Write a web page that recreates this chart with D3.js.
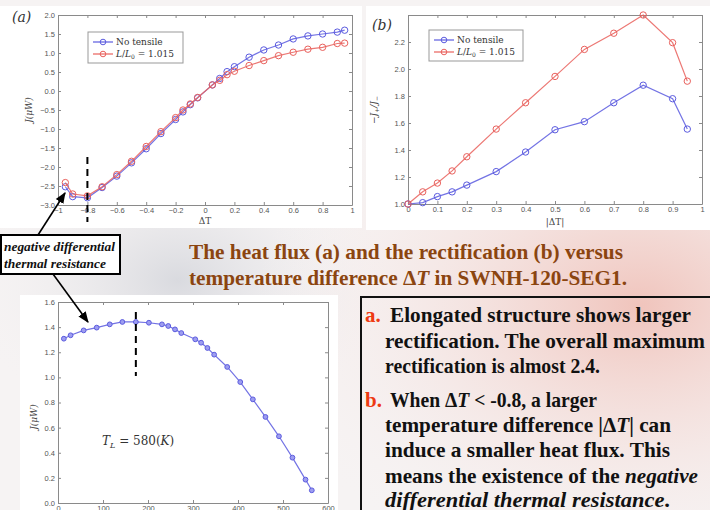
<!DOCTYPE html>
<html lang="en">
<head>
<meta charset="utf-8">
<title>Heat flux and rectification versus temperature difference</title>
<script src="https://d3js.org/d3.v7.min.js"></script>
<style>
  body { margin: 0; background: #fff; }
</style>
</head>
<body>
<script>

// ---- data ----

// (a) heat flux J versus deltaT
var fluxDT         = [-0.95, -0.9, -0.8, -0.7, -0.6, -0.5, -0.4, -0.3, -0.2, -0.15, -0.1, -0.05, 0.05, 0.1, 0.15, 0.2, 0.3, 0.4, 0.5, 0.6, 0.7, 0.8, 0.9, 0.95];
var fluxNoTensile  = [-2.52, -2.78, -2.81, -2.54, -2.24, -1.89, -1.52, -1.12, -0.75, -0.55, -0.36, -0.18, 0.16, 0.33, 0.51, 0.64, 0.89, 1.08, 1.21, 1.37, 1.45, 1.50, 1.55, 1.60];
var fluxTensile    = [-2.41, -2.71, -2.76, -2.52, -2.20, -1.85, -1.46, -1.07, -0.70, -0.50, -0.34, -0.17, 0.16, 0.28, 0.43, 0.52, 0.67, 0.80, 0.93, 1.02, 1.10, 1.15, 1.25, 1.26];

// (b) rectification -J+/J- versus |deltaT|
var rectDT         = [0, 0.05, 0.1, 0.15, 0.2, 0.3, 0.4, 0.5, 0.6, 0.7, 0.8, 0.9, 0.95];
var rectNoTensile  = [1.0, 1.01, 1.055, 1.09, 1.14, 1.24, 1.385, 1.55, 1.61, 1.75, 1.88, 1.78, 1.555];
var rectTensile    = [1.0, 1.09, 1.155, 1.245, 1.35, 1.555, 1.75, 1.945, 2.145, 2.265, 2.40, 2.195, 1.91];

// (c) heat flux at T_L = 580 K
var tempX          = [13, 28, 57, 86, 115, 143, 173, 202, 231, 245, 260, 274, 305, 318, 332, 347, 376, 405, 433, 461, 491, 521, 550, 564];
var tempFlux       = [1.308, 1.335, 1.374, 1.396, 1.422, 1.441, 1.441, 1.435, 1.422, 1.409, 1.382, 1.353, 1.303, 1.276, 1.234, 1.181, 1.083, 0.963, 0.825, 0.685, 0.531, 0.361, 0.186, 0.101];

var legendLabels   = ["No tensile", "L/L\u2080 = 1.015"];
var ticksA_x = [-1, -0.8, -0.6, -0.4, -0.2, 0, 0.2, 0.4, 0.6, 0.8, 1];
var ticksA_y = [-3, -2.5, -2, -1.5, -1, -0.5, 0, 0.5, 1, 1.5, 2];
var ticksB_x = [0, 0.1, 0.2, 0.3, 0.4, 0.5, 0.6, 0.7, 0.8, 0.9, 1];
var ticksB_y = [1.0, 1.2, 1.4, 1.6, 1.8, 2.0, 2.2];
var ticksC_x = [0, 100, 200, 300, 400, 500, 600];
var ticksC_y = [0, 0.2, 0.4, 0.6, 0.8, 1.0, 1.2, 1.4, 1.6];

var captionLines = ["The heat flux (a) and the rectification (b) versus",
                    "temperature difference \u0394T in SWNH-120-SEG1."];

var blue = "#5b5bdf", red = "#e9605c";
var SERIF = "Liberation Serif, Times New Roman, Times, serif";
var MATH = "DejaVu Serif, serif";
var SANS = "Liberation Sans, Arial, sans-serif";

// ---- page ----
var W = 710, H = 510;
var svg = d3.select("body").append("svg").attr("width", W).attr("height", H);

// slide background: pale with pinkish blotches
var defs = svg.append("defs");
var g1 = defs.append("radialGradient").attr("id", "pink").attr("cx", "0.9").attr("cy", "0.6").attr("r", "0.55");
g1.append("stop").attr("offset", "0").attr("stop-color", "#f0c4bc");
g1.append("stop").attr("offset", "1").attr("stop-color", "#f7f1f1").attr("stop-opacity", 0);
var g2 = defs.append("radialGradient").attr("id", "grey").attr("cx", "0.25").attr("cy", "0.55").attr("r", "0.3");
g2.append("stop").attr("offset", "0").attr("stop-color", "#d9dadf");
g2.append("stop").attr("offset", "1").attr("stop-color", "#f4f2f3").attr("stop-opacity", 0);
defs.append("marker").attr("id", "arrow").attr("viewBox", "0 0 10 10")
    .attr("refX", 9).attr("refY", 5).attr("markerWidth", 7).attr("markerHeight", 7)
    .attr("orient", "auto-start-reverse")
  .append("path").attr("d", "M0,1 L10,5 L0,9 z").attr("fill", "#000");

svg.append("rect").attr("width", W).attr("height", H).attr("fill", "#f6f3f3");
svg.append("rect").attr("width", W).attr("height", H).attr("fill", "url(#grey)");
svg.append("rect").attr("width", W).attr("height", H).attr("fill", "url(#pink)");

// white panels behind the plots
svg.append("rect").attr("x", 0).attr("y", 6).attr("width", 362).attr("height", 222).attr("fill", "#fff");
svg.append("rect").attr("x", 366).attr("y", 6).attr("width", 344).attr("height", 224).attr("fill", "#fff");
svg.append("rect").attr("x", 20).attr("y", 295).attr("width", 318).attr("height", 215).attr("fill", "#fff");

function drawPanel(cfg) {
  var x = d3.scaleLinear().domain(cfg.xDomain).range([cfg.left, cfg.right]);
  var y = d3.scaleLinear().domain(cfg.yDomain).range([cfg.bottom, cfg.top]);
  var g = svg.append("g");

  var fmtY = cfg.fmtY || d3.format(".1f");
  var fmtX = cfg.fmtX || function(d) { return d; };

  // matlab style box with inward ticks on all sides
  var axB = d3.axisBottom(x).tickValues(cfg.xTicks).tickSizeInner(-3).tickSizeOuter(0).tickPadding(3).tickFormat(fmtX);
  var axT = d3.axisTop(x).tickValues(cfg.xTicks).tickSizeInner(-3).tickSizeOuter(0).tickFormat("");
  var axL = d3.axisLeft(y).tickValues(cfg.yTicks).tickSizeInner(-3).tickSizeOuter(0).tickPadding(3).tickFormat(fmtY);
  var axR = d3.axisRight(y).tickValues(cfg.yTicks).tickSizeInner(-3).tickSizeOuter(0).tickFormat("");

  g.append("g").attr("transform", "translate(0," + cfg.bottom + ")").call(axB);
  g.append("g").attr("transform", "translate(0," + cfg.top + ")").call(axT);
  g.append("g").attr("transform", "translate(" + cfg.left + ",0)").call(axL);
  g.append("g").attr("transform", "translate(" + cfg.right + ",0)").call(axR);
  g.selectAll(".domain").attr("stroke", "#8a8a8a");
  g.selectAll(".tick line").attr("stroke", "#8a8a8a");
  g.selectAll(".tick text").attr("fill", "#555").attr("font-size", 7.5).attr("font-family", SANS)
    .text(function() { return this.textContent.replace("-", "\u2212"); });

  cfg.series.forEach(function(s) {
    var pts = s.xs.map(function(v, i) { return [v, s.ys[i]]; });
    var line = d3.line().x(function(d) { return x(d[0]); }).y(function(d) { return y(d[1]); });
    g.append("path").datum(pts).attr("d", line).attr("fill", "none")
      .attr("stroke", s.color).attr("stroke-width", 1.2).attr("stroke-opacity", 0.85);
    g.selectAll(null).data(pts).enter().append("circle")
      .attr("cx", function(d) { return x(d[0]); })
      .attr("cy", function(d) { return y(d[1]); })
      .attr("r", s.r || 3.2)
      .attr("fill", s.fill || "none").attr("stroke", s.color).attr("stroke-width", 1);
  });

  if (cfg.legend) {
    var L = cfg.legend;
    g.append("rect").attr("x", L.x).attr("y", L.y).attr("width", L.w).attr("height", L.h)
      .attr("fill", "#fff").attr("stroke", "#999").attr("stroke-width", 1);
    cfg.series.forEach(function(s, i) {
      var yy = L.y + 10 + i * 12;
      g.append("line").attr("x1", L.x + 5).attr("x2", L.x + 25).attr("y1", yy).attr("y2", yy)
        .attr("stroke", s.color).attr("stroke-width", 1.2);
      g.append("circle").attr("cx", L.x + 15).attr("cy", yy).attr("r", 2.8)
        .attr("fill", "none").attr("stroke", s.color);
      var t = g.append("text").attr("x", L.x + 28).attr("y", yy + 3)
        .attr("font-size", 9).attr("fill", "#333").attr("font-family", MATH);
      if (i === 0) {
        t.text(legendLabels[0]);
      } else {
        t.append("tspan").attr("font-style", "italic").text("L");
        t.append("tspan").text("/");
        t.append("tspan").attr("font-style", "italic").text("L");
        t.append("tspan").attr("font-size", 6).attr("dy", 2).text("0");
        t.append("tspan").attr("dy", -2).text(" = 1.015");
      }
    });
  }
  return { x: x, y: y, g: g };
}

// (a)
var pa = drawPanel({
  left: 58, right: 352, top: 15, bottom: 205,
  xDomain: [-1, 1], yDomain: [-3, 2],
  xTicks: ticksA_x, yTicks: ticksA_y,
  series: [{ xs: fluxDT, ys: fluxNoTensile, color: blue },
           { xs: fluxDT, ys: fluxTensile, color: red }],
  legend: { x: 88, y: 32, w: 95, h: 31 }
});
svg.append("text").attr("x", 12).attr("y", 22).attr("font-size", 14).attr("fill", "#333")
  .attr("font-family", MATH).attr("font-style", "italic").text("(a)");
svg.append("text").attr("x", 205).attr("y", 224).attr("text-anchor", "middle").attr("font-size", 9)
  .attr("fill", "#444").attr("font-family", MATH).text("\u0394T");
svg.append("text").attr("transform", "translate(32,110) rotate(-90)").attr("text-anchor", "middle")
  .attr("font-size", 9).attr("fill", "#444").attr("font-family", MATH)
  .attr("font-style", "italic").text("J(\u03bcW)");
svg.append("line").attr("x1", pa.x(-0.8)).attr("x2", pa.x(-0.8)).attr("y1", 157).attr("y2", 222)
  .attr("stroke", "#000").attr("stroke-width", 2).attr("stroke-dasharray", "7,5");

// (b)
var pb = drawPanel({
  left: 408, right: 702, top: 15, bottom: 204,
  xDomain: [0, 1], yDomain: [1, 2.4],
  xTicks: ticksB_x, yTicks: ticksB_y,
  series: [{ xs: rectDT, ys: rectNoTensile, color: blue },
           { xs: rectDT, ys: rectTensile, color: red }],
  legend: { x: 429, y: 30, w: 94, h: 31 }
});
svg.append("text").attr("x", 372).attr("y", 30).attr("font-size", 14).attr("fill", "#333")
  .attr("font-family", MATH).attr("font-style", "italic").text("(b)");
svg.append("text").attr("x", 555).attr("y", 225).attr("text-anchor", "middle").attr("font-size", 9)
  .attr("fill", "#444").attr("font-family", MATH).text("|\u0394T|");
var yl = svg.append("text").attr("transform", "translate(377,110) rotate(-90)").attr("text-anchor", "middle")
  .attr("font-size", 9).attr("fill", "#444").attr("font-family", MATH).attr("font-style", "italic");
yl.append("tspan").text("\u2212J");
yl.append("tspan").attr("font-size", 6).attr("dy", 2).text("+");
yl.append("tspan").attr("dy", -2).text("/J");
yl.append("tspan").attr("font-size", 6).attr("dy", 2).text("\u2212");

// (c)
var pc = drawPanel({
  left: 58, right: 328, top: 302, bottom: 503,
  xDomain: [0, 600], yDomain: [0, 1.6],
  xTicks: ticksC_x, yTicks: ticksC_y,
  series: [{ xs: tempX, ys: tempFlux, color: blue, r: 2.4, fill: "#9d9df0" }]
});
svg.append("text").attr("transform", "translate(37,417) rotate(-90)").attr("text-anchor", "middle")
  .attr("font-size", 9).attr("fill", "#444").attr("font-family", MATH)
  .attr("font-style", "italic").text("J(\u03bcW)");
var tl = svg.append("text").attr("x", 102).attr("y", 445).attr("font-size", 12).attr("fill", "#333")
  .attr("font-family", MATH);
tl.append("tspan").attr("font-style", "italic").text("T");
tl.append("tspan").attr("font-size", 8).attr("dy", 3).attr("font-style", "italic").text("L");
tl.append("tspan").attr("dy", -3).text(" = 580(");
tl.append("tspan").attr("font-style", "italic").text("K");
tl.append("tspan").text(")");
svg.append("line").attr("x1", pc.x(173)).attr("x2", pc.x(173)).attr("y1", 312).attr("y2", 376)
  .attr("stroke", "#000").attr("stroke-width", 2).attr("stroke-dasharray", "7,5");

// annotation box + arrows
svg.append("rect").attr("x", 1).attr("y", 235).attr("width", 119).attr("height", 39)
  .attr("fill", "#fff").attr("stroke", "#000").attr("stroke-width", 2);
["negative differential", "thermal resistance"].forEach(function(s, i) {
  svg.append("text").attr("x", 4).attr("y", 251 + i * 17).attr("font-size", 11.5)
    .attr("font-weight", "bold").attr("font-style", "italic")
    .attr("font-family", SERIF).attr("fill", "#111")
    .attr("textLength", i === 0 ? 111 : 102).attr("lengthAdjust", "spacingAndGlyphs").text(s);
});
svg.append("line").attr("x1", 38).attr("y1", 235).attr("x2", 65).attr("y2", 193)
  .attr("stroke", "#000").attr("stroke-width", 1.6).attr("marker-end", "url(#arrow)");
svg.append("line").attr("x1", 53).attr("y1", 274).attr("x2", 88).attr("y2", 322)
  .attr("stroke", "#000").attr("stroke-width", 1.6).attr("marker-end", "url(#arrow)");

// caption
captionLines.forEach(function(s, i) {
  var t = svg.append("text").attr("x", 189).attr("y", 259 + i * 26).attr("font-size", 21)
    .attr("font-weight", "bold").attr("font-family", SERIF).attr("fill", "#8b4510")
    .attr("textLength", i === 0 ? 434 : 438).attr("lengthAdjust", "spacingAndGlyphs");
  if (i === 0) {
    t.text(s);
  } else {
    t.append("tspan").text("temperature difference \u0394");
    t.append("tspan").attr("font-style", "italic").text("T");
    t.append("tspan").text(" in SWNH-120-SEG1.");
  }
});

// text box on the right
svg.append("rect").attr("x", 361).attr("y", 297).attr("width", 360).attr("height", 230)
  .attr("fill", "none").attr("stroke", "#111").attr("stroke-width", 2);

var boxLines = [
  { y: 322, x: 390, len: 301, marker: "a.", parts: [["Elongated structure shows larger", ""]] },
  { y: 348, x: 385, len: 320, parts: [["rectification. The overall maximum", ""]] },
  { y: 373, x: 385, len: 215, parts: [["rectification is almost 2.4.", ""]] },
  { y: 407, x: 390, len: 207, marker: "b.", parts: [["When \u0394", ""], ["T", "italic"], [" < -0.8, a larger", ""]] },
  { y: 432, x: 385, len: 286, parts: [["temperature difference |\u0394", ""], ["T", "italic"], ["| can", ""]] },
  { y: 457, x: 385, len: 285, parts: [["induce a smaller heat flux. This", ""]] },
  { y: 483, x: 385, len: 313, parts: [["means the existence of the ", ""], ["negative", "italic"]] },
  { y: 507, x: 385, len: 285, parts: [["differential thermal resistance", "italic"], [".", ""]] }
];
boxLines.forEach(function(l) {
  if (l.marker) {
    svg.append("text").attr("x", 365).attr("y", l.y).attr("font-size", 21).attr("font-weight", "bold")
      .attr("font-family", SERIF).attr("fill", "#ee3a12").text(l.marker);
  }
  var t = svg.append("text").attr("x", l.x).attr("y", l.y).attr("font-size", 21).attr("font-weight", "bold")
    .attr("font-family", SERIF).attr("fill", "#111")
    .attr("textLength", l.len).attr("lengthAdjust", "spacingAndGlyphs");
  l.parts.forEach(function(p) {
    t.append("tspan").attr("font-style", p[1] || null).text(p[0]);
  });
});

</script>
</body>
</html>
